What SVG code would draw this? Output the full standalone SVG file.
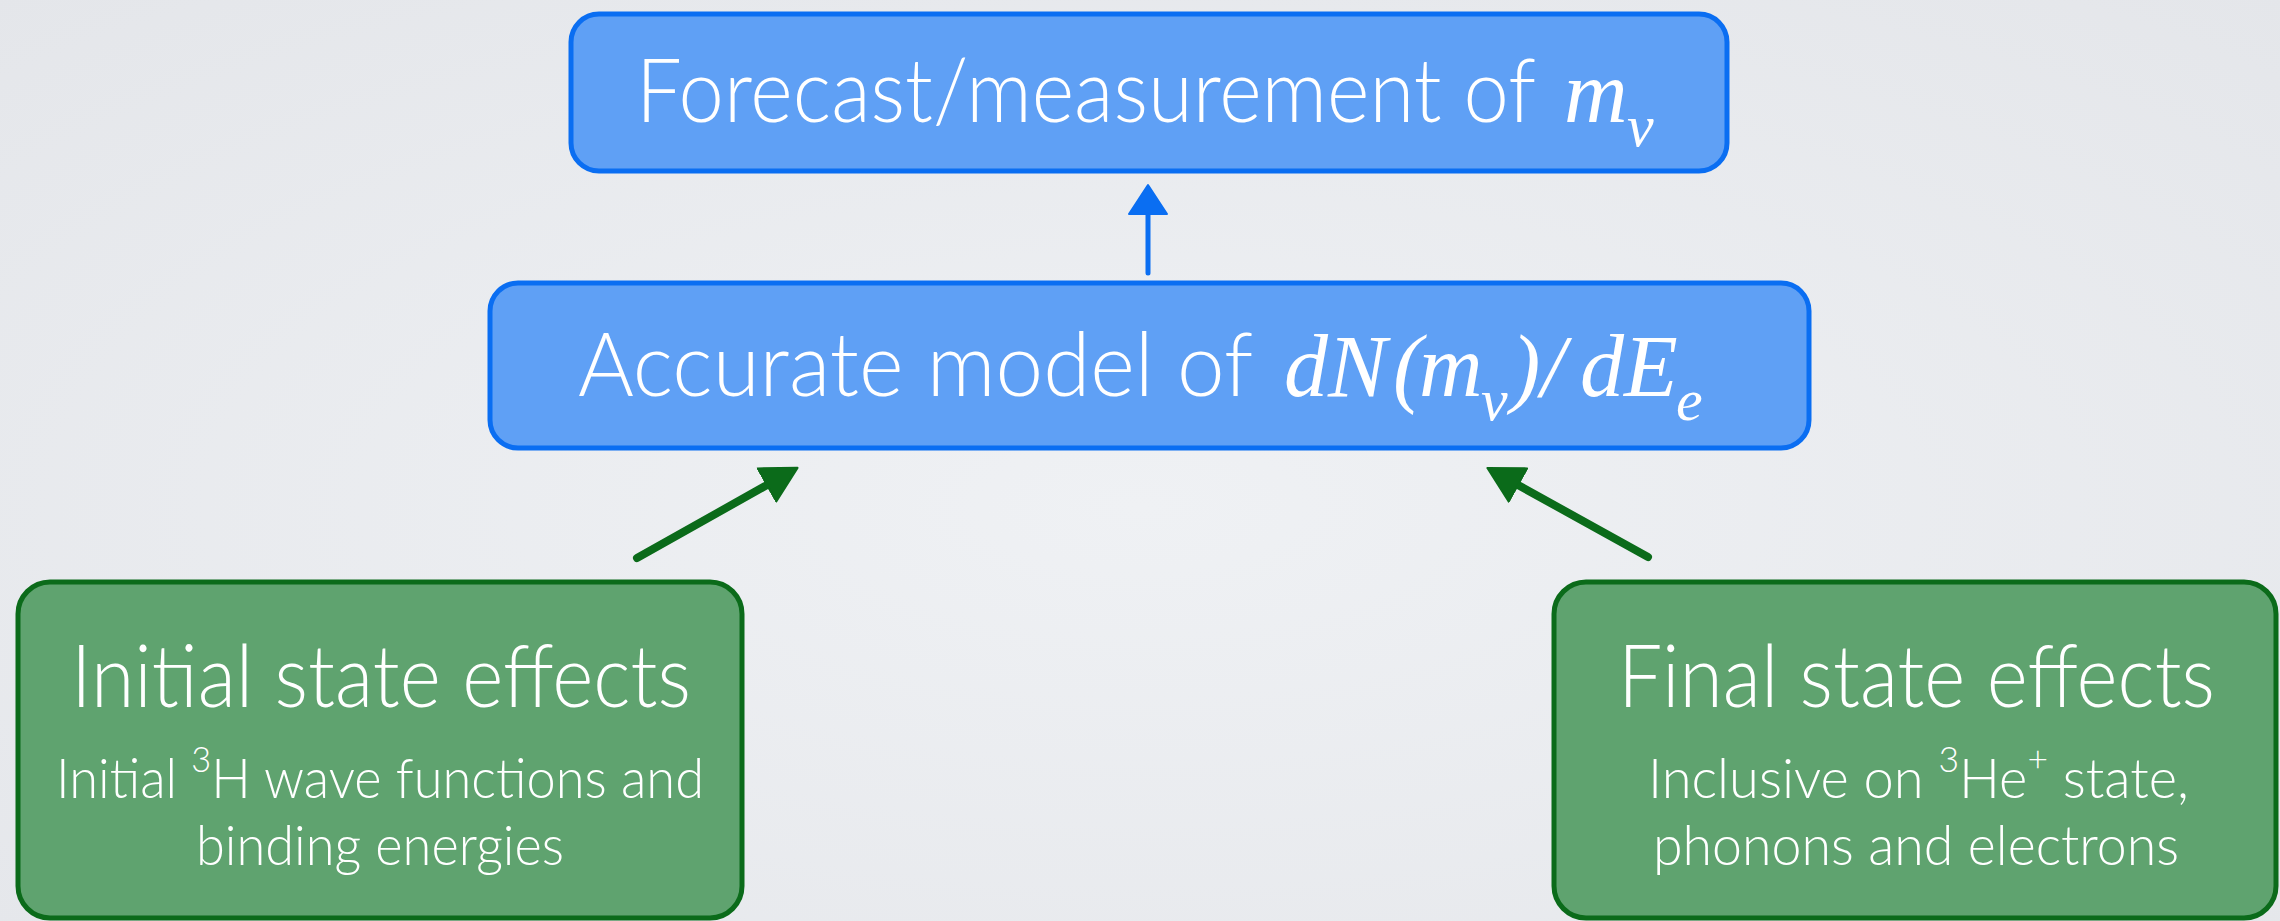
<svg xmlns="http://www.w3.org/2000/svg" width="2280" height="921" viewBox="0 0 2280 921">
  <defs>
    <radialGradient id="bg" cx="50%" cy="55%" r="75%">
      <stop offset="0" stop-color="#eff1f4"/>
      <stop offset="1" stop-color="#e4e6ea"/>
    </radialGradient>
    <marker id="headBlue" markerUnits="userSpaceOnUse" viewBox="0 0 32 42" markerWidth="32" markerHeight="42" refX="1" refY="21" orient="auto">
      <path d="M1,2 L30,21 L1,40 z" fill="#0a6ef2" stroke="#0a6ef2" stroke-width="2" stroke-linejoin="round"/>
    </marker>
    <marker id="headGreen" markerUnits="userSpaceOnUse" viewBox="0 0 38 42" markerWidth="38" markerHeight="42" refX="1" refY="21" orient="auto">
      <path d="M1,2 L36,21 L1,40 z" fill="#0b6b1a" stroke="#0b6b1a" stroke-width="2" stroke-linejoin="round"/>
    </marker>
  </defs>
  <style>
    .blue { fill: #5fa0f5; stroke: #0a6ef2; stroke-width: 5; }
    .green { fill: #5fa36f; stroke: #0b6b1a; stroke-width: 5; }
    .lbl { font-family: "Lato", "Open Sans", "Liberation Sans", sans-serif; font-weight: 300; fill: #ffffff; }
    .math { font-family: "Liberation Serif", "DejaVu Serif", serif; font-style: italic; font-weight: normal; fill: #ffffff; }
    .sub { font-size: 60px; }
    .edgeB { fill: none; stroke: #0a6ef2; stroke-width: 5; stroke-linecap: round; }
    .edgeG { fill: none; stroke: #0b6b1a; stroke-width: 8; stroke-linecap: round; }
  </style>

  <rect x="0" y="0" width="2280" height="921" fill="url(#bg)"/>

  <g id="forecast">
    <rect class="blue" x="571" y="14" width="1156" height="157" rx="28"/>
    <text class="lbl" x="636" y="122" font-size="88" textLength="900" lengthAdjust="spacingAndGlyphs">Forecast/measurement of</text>
    <text class="math" font-size="88"><tspan x="1564" y="122">m</tspan><tspan class="sub" x="1627" y="146">ν</tspan></text>
  </g>

  <g id="model">
    <rect class="blue" x="490" y="283" width="1319" height="165" rx="28"/>
    <text class="lbl" x="578" y="396" font-size="88" textLength="675" lengthAdjust="spacingAndGlyphs">Accurate model of</text>
    <text class="math" font-size="88"><tspan x="1284" y="396">dN</tspan><tspan x="1393" y="396">(</tspan><tspan x="1419" y="396">m</tspan><tspan class="sub" x="1481" y="420">ν</tspan><tspan x="1511" y="396">)</tspan><tspan x="1541" y="396">/</tspan><tspan x="1580" y="396">dE</tspan><tspan class="sub" x="1676" y="420">e</tspan></text>
  </g>

  <g id="initial">
    <rect class="green" x="18" y="582" width="724" height="336" rx="32"/>
    <text class="lbl" x="71" y="707" font-size="86" textLength="620" lengthAdjust="spacingAndGlyphs">Initial state effects</text>
    <text class="lbl" x="56" y="798" font-size="55" textLength="648" lengthAdjust="spacingAndGlyphs">Initial <tspan font-size="36" dy="-26">3</tspan><tspan dy="26">H wave functions and</tspan></text>
    <text class="lbl" x="196" y="865" font-size="55" textLength="368" lengthAdjust="spacingAndGlyphs">binding energies</text>
  </g>

  <g id="final">
    <rect class="green" x="1554" y="582" width="722" height="336" rx="32"/>
    <text class="lbl" x="1618" y="707" font-size="86" textLength="597" lengthAdjust="spacingAndGlyphs">Final state effects</text>
    <text class="lbl" x="1648" y="798" font-size="55" textLength="541" lengthAdjust="spacingAndGlyphs">Inclusive on <tspan font-size="36" dy="-26">3</tspan><tspan dy="26">He</tspan><tspan font-size="36" dy="-26">+</tspan><tspan dy="26"> state,</tspan></text>
    <text class="lbl" x="1653" y="865" font-size="55" textLength="526" lengthAdjust="spacingAndGlyphs">phonons and electrons</text>
  </g>

  <g id="connectors">
    <path class="edgeB" d="M1148,273 L1148,214" marker-end="url(#headBlue)"/>
    <path class="edgeG" d="M637,558 L767,485" marker-end="url(#headGreen)"/>
    <path class="edgeG" d="M1648,557 L1518,485" marker-end="url(#headGreen)"/>
  </g>
</svg>
